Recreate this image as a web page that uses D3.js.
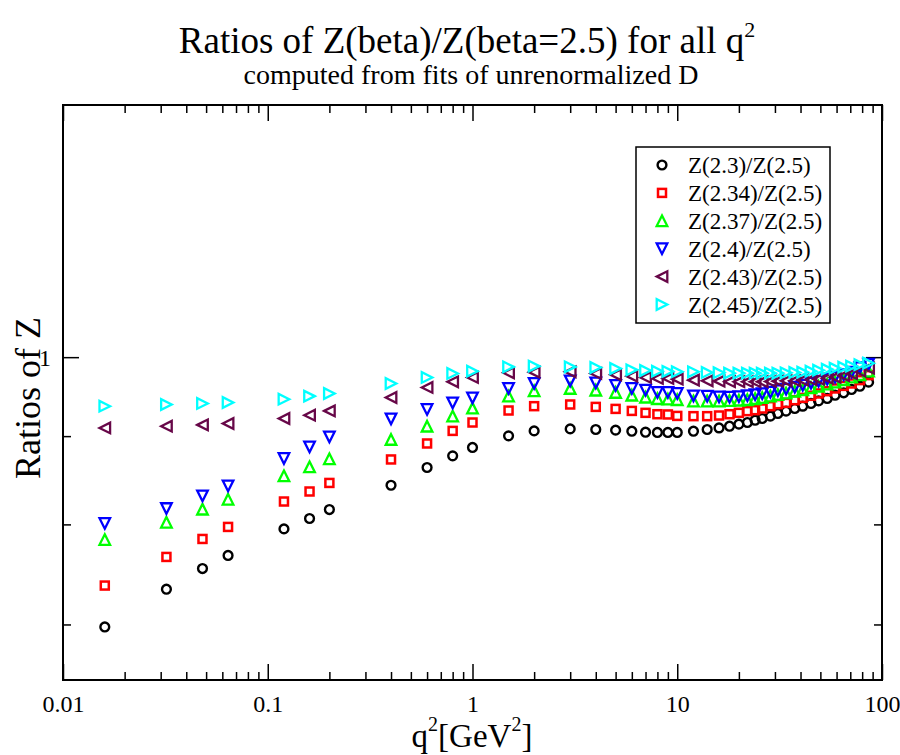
<!DOCTYPE html>
<html>
<head>
<meta charset="utf-8">
<script src="https://cdn.jsdelivr.net/npm/d3@7"></script>
<style>
  html, body { margin: 0; padding: 0; background: #fff; }
  svg { display: block; }
  text { font-family: "Liberation Serif", "Times New Roman", "DejaVu Serif", serif; fill: #000; }
</style>
</head>
<body>
<svg id="chart" width="900" height="755"></svg>
<script>
// ---------------- data ----------------
const qsq = [0.016,0.032,0.048,0.064,0.12,0.16,0.2,0.4,0.6,0.8,1,1.5,2,3,4,5,6,7,8,9,10,
             12,14,16,18,20,22,24,26,28.5,31,34,37.5,41,45,49,54,59,65,71,78,86];

const z230 = [0.6977,0.7337,0.7542,0.7675,0.7952,0.8063,0.8160,0.8429,0.8631,0.8766,0.8865,0.9003,0.9063,0.9087,0.9080,0.9072,0.9059,0.9047,0.9044,0.9044,0.9044,
              0.9059,0.9080,0.9099,0.9120,0.9145,0.9165,0.9193,0.9214,0.9243,0.9276,0.9305,0.9338,0.9367,0.9401,0.9433,0.9464,0.9505,0.9535,0.9578,0.9620,0.9672];
const z234 = [0.7373,0.7660,0.7846,0.7973,0.8248,0.8359,0.8455,0.8724,0.8912,0.9063,0.9165,0.9313,0.9367,0.9388,0.9358,0.9333,0.9308,0.9284,0.9267,0.9264,0.9246,
              0.9243,0.9243,0.9251,0.9267,0.9284,0.9305,0.9317,0.9338,0.9367,0.9392,0.9408,0.9442,0.9471,0.9497,0.9527,0.9556,0.9591,0.9624,0.9655,0.9698,0.9763];
const z237 = [0.7840,0.8023,0.8164,0.8273,0.8535,0.8638,0.8731,0.8960,0.9120,0.9243,0.9342,0.9493,0.9560,0.9591,0.9569,0.9540,0.9505,0.9480,0.9461,0.9455,0.9448,
              0.9430,0.9430,0.9430,0.9436,0.9442,0.9448,0.9461,0.9474,0.9493,0.9512,0.9531,0.9556,0.9575,0.9601,0.9620,0.9646,0.9672,0.9704,0.9737,0.9769,0.9815];
const z240 = [0.8010,0.8171,0.8310,0.8422,0.8735,0.8872,0.8991,0.9209,0.9326,0.9408,0.9471,0.9591,0.9655,0.9689,0.9663,0.9629,0.9591,0.9569,0.9540,0.9540,0.9527,
              0.9497,0.9493,0.9484,0.9480,0.9486,0.9499,0.9512,0.9524,0.9544,0.9563,0.9582,0.9608,0.9633,0.9659,0.9685,0.9711,0.9737,0.9769,0.9802,0.9861,0.9907];
const z243 = [0.9099,0.9120,0.9136,0.9153,0.9214,0.9255,0.9308,0.9476,0.9604,0.9676,0.9733,0.9793,0.9802,0.9806,0.9785,0.9767,0.9750,0.9733,0.9720,0.9720,0.9711,
              0.9698,0.9689,0.9685,0.9678,0.9678,0.9678,0.9678,0.9678,0.9681,0.9685,0.9689,0.9691,0.9698,0.9704,0.9711,0.9724,0.9737,0.9756,0.9782,0.9815,0.9854];
const z245 = [0.9367,0.9388,0.9401,0.9413,0.9455,0.9493,0.9527,0.9655,0.9733,0.9785,0.9815,0.9871,0.9881,0.9871,0.9863,0.9850,0.9832,0.9824,0.9815,0.9812,0.9808,
              0.9806,0.9798,0.9795,0.9789,0.9789,0.9789,0.9789,0.9789,0.9789,0.9789,0.9793,0.9798,0.9802,0.9815,0.9828,0.9841,0.9854,0.9867,0.9881,0.9900,0.9920];

const seriesLabels = ["Z(2.3)/Z(2.5)","Z(2.34)/Z(2.5)","Z(2.37)/Z(2.5)","Z(2.4)/Z(2.5)","Z(2.43)/Z(2.5)","Z(2.45)/Z(2.5)"];
const seriesValues = [z230, z234, z237, z240, z243, z245];
const seriesColors = ["#000000","#ff0000","#00ff00","#0000ff","#670748","#00ffff"];
const seriesSymbols = ["circle","square","triUp","triDown","triLeft","triRight"];

const xMajorTicks = [0.01, 0.1, 1, 10, 100];
const xTickLabels = ["0.01","0.1","1","10","100"];
const yMajorTicks = [1];
const yTickLabels = ["1"];
const yMinorTicks = [0.7, 0.8, 0.9];

// ---------------- layout ----------------
const L = 63, R = 882, T = 105, B = 680;
const svg = d3.select("#chart");

const x = d3.scaleLog().domain([0.01, 100]).range([L, R]);
const y = d3.scaleLog().domain([0.65, 1.4]).range([B, T]);

const xMinorTicks = [];
[0.01, 0.1, 1, 10].forEach(d => { for (let k = 2; k <= 9; k++) xMinorTicks.push(+(d * k).toPrecision(3)); });

const major = 16, minor = 8;
const serif = "Liberation Serif, Times New Roman, serif";

function styleAxis(g) {
  g.select(".domain").remove();
  g.selectAll(".tick line").attr("stroke", "#000").attr("stroke-width", 1.5);
}

// bottom
svg.append("g").attr("transform", `translate(0,${B})`)
  .call(d3.axisBottom(x).tickValues(xMajorTicks).tickSize(-major)
        .tickFormat((d, i) => xTickLabels[i]))
  .call(styleAxis)
  .call(g => g.selectAll("text").attr("dy", null).attr("y", 32)
        .attr("font-size", 24).attr("font-family", serif).attr("fill", "#000"));
svg.append("g").attr("transform", `translate(0,${B})`)
  .call(d3.axisBottom(x).tickValues(xMinorTicks).tickSize(-minor).tickFormat(""))
  .call(styleAxis);
// top
svg.append("g").attr("transform", `translate(0,${T})`)
  .call(d3.axisTop(x).tickValues(xMajorTicks).tickSize(-major).tickFormat(""))
  .call(styleAxis);
svg.append("g").attr("transform", `translate(0,${T})`)
  .call(d3.axisTop(x).tickValues(xMinorTicks).tickSize(-minor).tickFormat(""))
  .call(styleAxis);
// left
svg.append("g").attr("transform", `translate(${L},0)`)
  .call(d3.axisLeft(y).tickValues(yMajorTicks).tickSize(-major).tickPadding(12)
        .tickFormat((d, i) => yTickLabels[i]))
  .call(styleAxis)
  .call(g => g.selectAll("text").attr("font-size", 24).attr("font-family", serif)
        .attr("fill", "#000").attr("dy", "0.35em"));
svg.append("g").attr("transform", `translate(${L},0)`)
  .call(d3.axisLeft(y).tickValues(yMinorTicks).tickSize(-minor).tickFormat(""))
  .call(styleAxis);
// right
svg.append("g").attr("transform", `translate(${R},0)`)
  .call(d3.axisRight(y).tickValues(yMajorTicks).tickSize(-major).tickFormat(""))
  .call(styleAxis);
svg.append("g").attr("transform", `translate(${R},0)`)
  .call(d3.axisRight(y).tickValues(yMinorTicks).tickSize(-minor).tickFormat(""))
  .call(styleAxis);

// frame
svg.append("rect").attr("x", L).attr("y", T).attr("width", R - L).attr("height", B - T)
  .attr("fill", "none").attr("stroke", "#000").attr("stroke-width", 2);

// ---------------- markers ----------------
function symbolPath(type) {
  const s = 5.3;
  switch (type) {
    case "triUp":    return `M0,${-s}L${s},${s}L${-s},${s}Z`;
    case "triDown":  return `M0,${s}L${s},${-s}L${-s},${-s}Z`;
    case "triLeft":  return `M${-s},0L${s},${-s}L${s},${s}Z`;
    case "triRight": return `M${s},0L${-s},${-s}L${-s},${s}Z`;
  }
}
function drawSymbol(g, type, color) {
  if (type === "circle") {
    g.append("circle").attr("r", 4.4).attr("fill", "none").attr("stroke", color).attr("stroke-width", 2.4);
  } else if (type === "square") {
    g.append("rect").attr("x", -4).attr("y", -4).attr("width", 8).attr("height", 8)
      .attr("fill", "none").attr("stroke", color).attr("stroke-width", 2.5);
  } else {
    g.append("path").attr("d", symbolPath(type)).attr("fill", "none")
      .attr("stroke", color).attr("stroke-width", 2.3).attr("stroke-linejoin", "miter");
  }
}

seriesValues.forEach((vals, si) => {
  const grp = svg.append("g");
  grp.selectAll("g.pt").data(qsq.map((q, i) => ({ q, v: vals[i] })))
    .join("g").attr("class", "pt")
    .attr("transform", d => `translate(${x(d.q)},${y(d.v)})`)
    .each(function () { drawSymbol(d3.select(this), seriesSymbols[si], seriesColors[si]); });
});

// ---------------- legend ----------------
const lg = svg.append("g");
lg.append("rect").attr("x", 636).attr("y", 147).attr("width", 194).attr("height", 176)
  .attr("fill", "#fff").attr("stroke", "#000").attr("stroke-width", 1.5);
seriesLabels.forEach((lab, i) => {
  const cy = 165 + i * 27.9;
  const g = lg.append("g").attr("transform", `translate(662,${cy})`);
  drawSymbol(g, seriesSymbols[i], seriesColors[i]);
  lg.append("text").attr("x", 688).attr("y", cy + 8).attr("font-size", 23).text(lab);
});

// ---------------- titles ----------------
const title = svg.append("text").attr("x", 467).attr("y", 53).attr("text-anchor", "middle").attr("font-size", 37);
title.append("tspan").text("Ratios of Z(beta)/Z(beta=2.5) for all q");
title.append("tspan").attr("dy", -16).attr("font-size", 22).text("2");

svg.append("text").attr("x", 471).attr("y", 84).attr("text-anchor", "middle").attr("font-size", 28)
  .text("computed from fits of unrenormalized D");

const xl = svg.append("text").attr("x", 472).attr("y", 747).attr("text-anchor", "middle").attr("font-size", 33);
xl.append("tspan").text("q");
xl.append("tspan").attr("dy", -16).attr("font-size", 20).text("2");
xl.append("tspan").attr("dy", 16).text("[GeV");
xl.append("tspan").attr("dy", -16).attr("font-size", 20).text("2");
xl.append("tspan").attr("dy", 16).text("]");

svg.append("text").attr("transform", "translate(40,398) rotate(-90)").attr("text-anchor", "middle")
  .attr("font-size", 36).text("Ratios of Z");
</script>
</body>
</html>
